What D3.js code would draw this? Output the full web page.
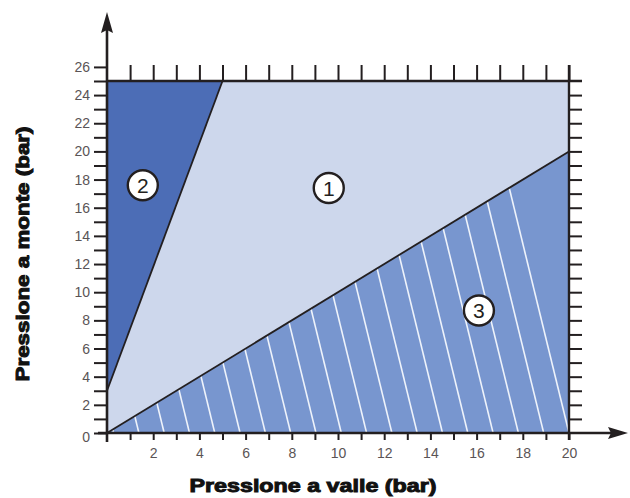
<!DOCTYPE html>
<html>
<head>
<meta charset="utf-8">
<script src="https://cdn.jsdelivr.net/npm/d3@7"></script>
<style>
  body { margin: 0; background: #fff; }
  svg { display: block; }
</style>
</head>
<body>
<svg width="630" height="498"></svg>
<script>
var svg = d3.select("svg");

// zone boundaries (pressione a valle, pressione a monte) in bar
var frame = [[0, 0], [0, 25], [20, 25], [20, 0]];
var zone2 = [[0, 3], [0, 25], [5, 25]];
var zone3 = [[0, 0], [20, 20], [20, 0]];
var lineA = [[0, 3], [5, 25]];
var lineB = [[0, 0], [20, 20]];
var zoneLabels = [
    {id: "1", x: 9.6, y: 17.4},
    {id: "2", x: 1.55, y: 17.6},
    {id: "3", x: 16.1, y: 8.7}
];
var xTicks = d3.range(1, 21);
var yTicks = d3.range(0, 27);
var topTicks = d3.range(1, 21);
var rightTicks = d3.range(1, 25);

var x = d3.scaleLinear().domain([0, 20]).range([107, 569]);
var y = d3.scaleLinear().domain([0, 25]).range([433, 81]);

var dark = "#231f20";
var area = d3.line().x(function(d) { return x(d[0]); }).y(function(d) { return y(d[1]); });

svg.append("path").attr("d", area(frame) + "Z").attr("fill", "#cdd7ec");
svg.append("path").attr("d", area(zone2) + "Z").attr("fill", "#4c6db6");
svg.append("path").attr("d", area(zone3) + "Z").attr("fill", "#7896cf");

// hatch of zone 3
svg.append("clipPath").attr("id", "clip3")
   .append("path").attr("d", area(zone3) + "Z");
var hgap = 25.3, hslope = 4.1;
var hatch = svg.append("g").attr("clip-path", "url(#clip3)");
for (var k = 0; k < 19; k++) {
    var xb = x(20) - k * hgap;
    hatch.append("line")
         .attr("x1", xb + 5 / hslope).attr("y1", y(0) + 5)
         .attr("x2", xb - 400 / hslope).attr("y2", y(0) - 400)
         .attr("stroke", "#eef3fb")
         .attr("stroke-width", 1.6);
}

// boundary lines
[lineA, lineB].forEach(function(l) {
    svg.append("path").attr("d", area(l))
       .attr("fill", "none").attr("stroke", dark).attr("stroke-width", 1.8);
});

// axes
function styleAxis(g) {
    g.select(".domain").remove();
    g.selectAll(".tick line").attr("stroke", dark).attr("stroke-width", 2);
    g.selectAll(".tick text")
     .attr("fill", "#5a5456")
     .style("font-family", "Liberation Sans, Arial, sans-serif")
     .style("font-size", "14px");
}

svg.append("g").attr("transform", "translate(0," + y(0) + ")")
   .call(d3.axisBottom(x).tickValues(xTicks).tickSize(7).tickPadding(8)
         .tickFormat(function(d) { return d % 2 === 0 ? d : ""; }))
   .call(styleAxis);

svg.append("g").attr("transform", "translate(" + x(0) + ",0)")
   .call(d3.axisLeft(y).tickValues(yTicks).tickSize(13).tickPadding(4)
         .tickFormat(function(d) { return d % 2 === 0 ? d : ""; }))
   .call(styleAxis);
svg.selectAll("text").filter(function() { return this.textContent === "0"; })
   .attr("dy", "0.6em").attr("x", -17);

svg.append("g").attr("transform", "translate(0," + y(25) + ")")
   .call(d3.axisTop(x).tickValues(topTicks).tickSize(16).tickFormat(""))
   .call(styleAxis);

svg.append("g").attr("transform", "translate(" + x(20) + ",0)")
   .call(d3.axisRight(y).tickValues(rightTicks).tickSize(13).tickFormat(""))
   .call(styleAxis);

// frame lines and main axes with arrows
svg.append("line").attr("x1", x(0)).attr("y1", y(25)).attr("x2", x(20) + 13).attr("y2", y(25))
   .attr("stroke", dark).attr("stroke-width", 2.4);
svg.append("line").attr("x1", x(20)).attr("y1", y(25) - 16).attr("x2", x(20)).attr("y2", y(0) + 7)
   .attr("stroke", dark).attr("stroke-width", 2.4);
svg.append("line").attr("x1", x(0) - 9).attr("y1", y(0)).attr("x2", 612).attr("y2", y(0))
   .attr("stroke", dark).attr("stroke-width", 2.6);
svg.append("line").attr("x1", x(0)).attr("y1", y(0) + 9).attr("x2", x(0)).attr("y2", 30)
   .attr("stroke", dark).attr("stroke-width", 2.6);
svg.append("path")
   .attr("d", "M628," + y(0) + "L608," + (y(0) - 6) + "L611," + y(0) + "L608," + (y(0) + 6) + "Z")
   .attr("fill", dark);
svg.append("path")
   .attr("d", "M" + x(0) + ",12L" + (x(0) - 6) + ",33L" + x(0) + ",30L" + (x(0) + 6) + ",33Z")
   .attr("fill", dark);

// zone markers
var lab = svg.append("g").selectAll("g").data(zoneLabels).enter().append("g")
   .attr("transform", function(d) { return "translate(" + x(d.x) + "," + y(d.y) + ")"; });
lab.append("circle").attr("r", 15).attr("fill", "#fff")
   .attr("stroke", dark).attr("stroke-width", 2.4);
lab.append("text").text(function(d) { return d.id; })
   .attr("text-anchor", "middle").attr("dy", "0.36em")
   .attr("fill", dark)
   .style("font-family", "Liberation Sans, Arial, sans-serif")
   .style("font-size", "21px");

// axis titles
svg.append("text").text("Pressione a valle (bar)")
   .attr("x", 313).attr("y", 492).attr("text-anchor", "middle")
   .attr("textLength", 247).attr("lengthAdjust", "spacingAndGlyphs")
   .attr("fill", "#111").attr("stroke", "#111").attr("stroke-width", 1)
   .style("font-family", "Liberation Sans, Arial, sans-serif")
   .style("font-weight", "bold").style("font-size", "19px");
svg.append("text").text("Pressione a monte (bar)")
   .attr("transform", "translate(29,254) rotate(-90)").attr("text-anchor", "middle")
   .attr("textLength", 255).attr("lengthAdjust", "spacingAndGlyphs")
   .attr("fill", "#111").attr("stroke", "#111").attr("stroke-width", 1)
   .style("font-family", "Liberation Sans, Arial, sans-serif")
   .style("font-weight", "bold").style("font-size", "19px");
</script>
</body>
</html>
